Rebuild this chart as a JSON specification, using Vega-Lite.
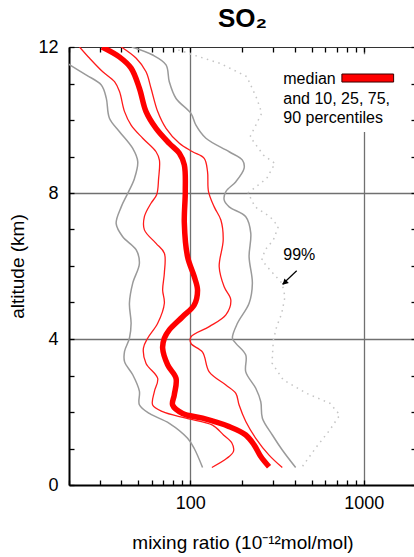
{
  "$schema": "https://vega.github.io/schema/vega-lite/v6.json",
  "autosize": "none",
  "width": 347,
  "height": 438,
  "padding": {"left": 69, "top": 47, "right": 0, "bottom": 72},
  "background": "white",
  "config": {"view": {"stroke": null}, "font": "Liberation Sans"},
  "title": {"text": "SO₂", "fontSize": 26, "fontWeight": "bold", "font": "Liberation Sans", "color": "black", "offset": 6, "anchor": "middle"},
  "datasets": {
    "prof": [
      {"s":"p10","a":12,"v":14},{"s":"p10","a":11.51,"v":20.2},{"s":"p10","a":11.23,"v":25.2},{"s":"p10","a":10.96,"v":30.7},{"s":"p10","a":10.6,"v":32.8},{"s":"p10","a":10.05,"v":34.2},{"s":"p10","a":9.68,"v":39.1},{"s":"p10","a":9.22,"v":46.6},{"s":"p10","a":8.86,"v":49.8},{"s":"p10","a":8.4,"v":47.7},{"s":"p10","a":7.99,"v":43.6},{"s":"p10","a":7.62,"v":40},{"s":"p10","a":7.16,"v":37.4},{"s":"p10","a":6.8,"v":40.8},{"s":"p10","a":6.44,"v":48.8},{"s":"p10","a":6.07,"v":50.9},{"s":"p10","a":5.53,"v":46.6},{"s":"p10","a":4.98,"v":44.6},{"s":"p10","a":4.43,"v":45.6},{"s":"p10","a":4.02,"v":44.6},{"s":"p10","a":3.66,"v":41.8},{"s":"p10","a":3.38,"v":41.8},{"s":"p10","a":3.02,"v":46.6},{"s":"p10","a":2.57,"v":50.9},{"s":"p10","a":2.2,"v":50.9},{"s":"p10","a":1.96,"v":58.1},{"s":"p10","a":1.69,"v":75.7},{"s":"p10","a":1.28,"v":96.5},{"s":"p10","a":1.0,"v":105.4},{"s":"p10","a":0.48,"v":117.7},
      {"s":"p90","a":12,"v":46},{"s":"p90","a":11.78,"v":60.7},{"s":"p90","a":11.51,"v":72.5},{"s":"p90","a":11.05,"v":75.7},{"s":"p90","a":10.59,"v":82.8},{"s":"p90","a":10.18,"v":100.9},{"s":"p90","a":9.86,"v":107.8},{"s":"p90","a":9.5,"v":123.1},{"s":"p90","a":9.13,"v":167.6},{"s":"p90","a":8.9,"v":199.8},{"s":"p90","a":8.68,"v":204.4},{"s":"p90","a":8.31,"v":183.1},{"s":"p90","a":8.04,"v":160.4},{"s":"p90","a":7.81,"v":156.8},{"s":"p90","a":7.62,"v":167.6},{"s":"p90","a":7.35,"v":208.9},{"s":"p90","a":6.9,"v":223.2},{"s":"p90","a":6.25,"v":218.3},{"s":"p90","a":5.53,"v":228},{"s":"p90","a":4.98,"v":218.3},{"s":"p90","a":4.43,"v":187},{"s":"p90","a":4.02,"v":175},{"s":"p90","a":3.88,"v":183.1},{"s":"p90","a":3.56,"v":208.9},{"s":"p90","a":3.1,"v":208.9},{"s":"p90","a":2.65,"v":238.5},{"s":"p90","a":2.28,"v":254.9},{"s":"p90","a":1.83,"v":260.4},{"s":"p90","a":1.37,"v":297.2},{"s":"p90","a":0.96,"v":339.1},{"s":"p90","a":0.48,"v":404.9},
      {"s":"p25","a":12,"v":23},{"s":"p25","a":11.69,"v":26.3},{"s":"p25","a":11.32,"v":31.3},{"s":"p25","a":11.05,"v":36.6},{"s":"p25","a":10.78,"v":39.1},{"s":"p25","a":10.23,"v":41.8},{"s":"p25","a":9.86,"v":45.6},{"s":"p25","a":9.5,"v":53.2},{"s":"p25","a":9.13,"v":63.5},{"s":"p25","a":8.9,"v":66.4},{"s":"p25","a":8.4,"v":65.7},{"s":"p25","a":7.95,"v":64},{"s":"p25","a":7.72,"v":59.4},{"s":"p25","a":7.35,"v":54.4},{"s":"p25","a":6.99,"v":54.4},{"s":"p25","a":6.62,"v":63.5},{"s":"p25","a":6.35,"v":70.9},{"s":"p25","a":5.81,"v":70.9},{"s":"p25","a":5.34,"v":69.3},{"s":"p25","a":4.98,"v":70.9},{"s":"p25","a":4.43,"v":64.9},{"s":"p25","a":4.02,"v":56.8},{"s":"p25","a":3.75,"v":53.7},{"s":"p25","a":3.33,"v":55.6},{"s":"p25","a":2.92,"v":64.9},{"s":"p25","a":2.56,"v":62.1},{"s":"p25","a":2.19,"v":60.7},{"s":"p25","a":2.01,"v":69.3},{"s":"p25","a":1.83,"v":94.5},{"s":"p25","a":1.64,"v":134.4},{"s":"p25","a":1.37,"v":155.4},{"s":"p25","a":1.15,"v":173.7},{"s":"p25","a":0.92,"v":177.4},{"s":"p25","a":0.73,"v":162.5},{"s":"p25","a":0.48,"v":133.2},
      {"s":"p75","a":12,"v":40},{"s":"p75","a":11.69,"v":48.8},{"s":"p75","a":11.32,"v":55.6},{"s":"p75","a":10.87,"v":59.4},{"s":"p75","a":10.23,"v":64.9},{"s":"p75","a":9.77,"v":72.5},{"s":"p75","a":9.36,"v":86.5},{"s":"p75","a":9.13,"v":103.1},{"s":"p75","a":8.95,"v":120.3},{"s":"p75","a":8.59,"v":125.7},{"s":"p75","a":8.04,"v":127.4},{"s":"p75","a":7.62,"v":137.4},{"s":"p75","a":7.26,"v":150.1},{"s":"p75","a":6.71,"v":154.8},{"s":"p75","a":5.98,"v":146.8},{"s":"p75","a":5.43,"v":156.8},{"s":"p75","a":5.07,"v":171.3},{"s":"p75","a":4.66,"v":160.4},{"s":"p75","a":4.34,"v":128.6},{"s":"p75","a":4.06,"v":100.9},{"s":"p75","a":3.88,"v":100.9},{"s":"p75","a":3.64,"v":117.7},{"s":"p75","a":3.1,"v":128.6},{"s":"p75","a":2.74,"v":160.4},{"s":"p75","a":2.51,"v":183.1},{"s":"p75","a":2.19,"v":191.2},{"s":"p75","a":1.74,"v":208.9},{"s":"p75","a":1.28,"v":238.5},{"s":"p75","a":0.82,"v":284.5},{"s":"p75","a":0.48,"v":339.1},
      {"s":"p50","a":12,"v":31},{"s":"p50","a":11.73,"v":39},{"s":"p50","a":11.42,"v":45.6},{"s":"p50","a":10.87,"v":50.9},{"s":"p50","a":10.23,"v":55.6},{"s":"p50","a":9.77,"v":63.5},{"s":"p50","a":9.36,"v":75.7},{"s":"p50","a":9.09,"v":86.5},{"s":"p50","a":8.77,"v":92.4},{"s":"p50","a":8.04,"v":93.6},{"s":"p50","a":7.18,"v":92.4},{"s":"p50","a":6.25,"v":96.5},{"s":"p50","a":5.71,"v":105.4},{"s":"p50","a":5.34,"v":110.1},{"s":"p50","a":4.93,"v":105.4},{"s":"p50","a":4.61,"v":90.3},{"s":"p50","a":4.25,"v":75.7},{"s":"p50","a":4.02,"v":70.9},{"s":"p50","a":3.75,"v":69.3},{"s":"p50","a":3.29,"v":74.1},{"s":"p50","a":2.92,"v":82.8},{"s":"p50","a":2.47,"v":80.9},{"s":"p50","a":2.19,"v":79.1},{"s":"p50","a":1.96,"v":90.3},{"s":"p50","a":1.83,"v":117.7},{"s":"p50","a":1.6,"v":167.6},{"s":"p50","a":1.37,"v":208.9},{"s":"p50","a":1.1,"v":233.2},{"s":"p50","a":0.78,"v":254.9},{"s":"p50","a":0.5,"v":284.5},
      {"s":"p99","a":11.92,"v":85.3},{"s":"p99","a":11.78,"v":104.5},{"s":"p99","a":11.55,"v":148.8},{"s":"p99","a":11.19,"v":211.8},{"s":"p99","a":10.59,"v":241.7},{"s":"p99","a":10.19,"v":258.3},{"s":"p99","a":9.54,"v":221.2},{"s":"p99","a":9.04,"v":263.8},{"s":"p99","a":8.81,"v":307.9},{"s":"p99","a":8.4,"v":276},{"s":"p99","a":8.0,"v":215.4},{"s":"p99","a":7.62,"v":236.3},{"s":"p99","a":7.35,"v":288.3},{"s":"p99","a":7.08,"v":321.8},{"s":"p99","a":6.71,"v":301.1},{"s":"p99","a":6.44,"v":269.8},{"s":"p99","a":6.16,"v":258.3},{"s":"p99","a":5.89,"v":288.3},{"s":"p99","a":5.53,"v":337.9},{"s":"p99","a":5.16,"v":351.5},{"s":"p99","a":4.7,"v":336.5},{"s":"p99","a":4.34,"v":314.9},{"s":"p99","a":3.97,"v":301.1},{"s":"p99","a":3.34,"v":296},{"s":"p99","a":2.88,"v":343.6},{"s":"p99","a":2.51,"v":468.6},{"s":"p99","a":2.24,"v":637.6},{"s":"p99","a":1.92,"v":727.8},{"s":"p99","a":1.51,"v":637.6},{"s":"p99","a":1.05,"v":535},{"s":"p99","a":0.49,"v":440.1}
    ],
    "notes": [
      {"t":"median","x":343.6,"y":10.98},
      {"t":"and 10, 25, 75,","x":343.6,"y":10.44},
      {"t":"90 percentiles","x":343.6,"y":9.91},
      {"t":"99%","x":343.6,"y":6.16}
    ]
  },
  "resolve": {"axis": {"x": "independent", "y": "independent"}},
  "layer": [
    {
      "data": {"values": [{"x":300,"x2":1700,"y":11.8,"y2":9.67}]},
      "mark": {"type": "rect", "fill": "white", "stroke": null, "clip": true},
      "encoding": {
        "x": {"field": "x", "type": "quantitative", "scale": {"type": "log", "domain": [20, 2000], "nice": false},
          "axis": {"orient": "bottom", "values": [20,30,40,50,60,70,80,90,100,200,300,400,500,600,700,800,900,1000],
            "labelExpr": "datum.value == 100 || datum.value == 1000 ? datum.value : ''",
            "tickSize": -5, "tickColor": "black", "tickWidth": 1.3, "domainColor": "black", "domainWidth": 2,
            "grid": true, "gridColor": "#707070", "gridWidth": 1.3,
            "gridOpacity": {"condition": {"test": "datum.value == 100 || datum.value == 1000", "value": 1}, "value": 0},
            "labelFontSize": 18, "labelFont": "Liberation Sans", "labelColor": "black", "labelPadding": 14,
            "labelOverlap": false, "labelFlush": false,
            "title": "mixing ratio (10⁻¹²mol/mol)", "titleFontSize": 19, "titleFont": "Liberation Sans", "titleFontWeight": "normal", "titleColor": "black", "titlePadding": 21}},
        "x2": {"field": "x2"},
        "y": {"field": "y", "type": "quantitative", "scale": {"domain": [0, 12], "nice": false, "zero": false},
          "axis": {"orient": "left", "values": [0,1,2,3,4,5,6,7,8,9,10,11,12],
            "labelExpr": "datum.value % 4 == 0 ? datum.value : ''",
            "tickSize": -5, "tickColor": "black", "tickWidth": 1.3, "domainColor": "black", "domainWidth": 2,
            "grid": true, "gridColor": "#707070", "gridWidth": 1.3,
            "gridOpacity": {"condition": {"test": "datum.value == 4 || datum.value == 8", "value": 1}, "value": 0},
            "labelFontSize": 18, "labelFont": "Liberation Sans", "labelColor": "black", "labelPadding": 16,
            "labelOverlap": false, "labelFlush": false,
            "title": "altitude (km)", "titleFontSize": 19, "titleFont": "Liberation Sans", "titleFontWeight": "normal", "titleColor": "black", "titlePadding": 10}},
        "y2": {"field": "y2"}
      }
    },
    {
      "data": {"name": "prof"},
      "transform": [{"filter": "datum.s == 'p10' || datum.s == 'p90'"}],
      "mark": {"type": "line", "color": "#9a9a9a", "strokeWidth": 1.5, "interpolate": "catmull-rom", "clip": true},
      "encoding": {
        "x": {"field": "v", "type": "quantitative", "scale": {"type": "log", "domain": [20, 2000], "nice": false},
          "axis": {"orient": "top", "values": [20,30,40,50,60,70,80,90,100,200,300,400,500,600,700,800,900,1000],
            "labels": false, "tickSize": -5, "tickColor": "black", "tickWidth": 1.3, "domainColor": "#333333", "domainWidth": 1.2, "grid": false, "title": null}},
        "y": {"field": "a", "type": "quantitative", "scale": {"domain": [0, 12], "nice": false, "zero": false},
          "axis": {"orient": "right", "values": [0,1,2,3,4,5,6,7,8,9,10,11,12],
            "labels": false, "tickSize": -5, "tickColor": "black", "tickWidth": 1.3, "domainColor": "black", "domainWidth": 1.5, "grid": false, "title": null}},
        "detail": {"field": "s"},
        "order": {"field": "a", "sort": "descending"}
      }
    },
    {
      "data": {"name": "prof"},
      "transform": [{"filter": "datum.s == 'p99'"}],
      "mark": {"type": "line", "color": "#c4c4c4", "strokeWidth": 1.5, "strokeDash": [1.5, 4.5], "clip": true},
      "encoding": {
        "x": {"field": "v", "type": "quantitative", "scale": {"type": "log", "domain": [20, 2000], "nice": false}, "axis": null},
        "y": {"field": "a", "type": "quantitative", "scale": {"domain": [0, 12], "nice": false, "zero": false}, "axis": null},
        "order": {"field": "a", "sort": "descending"}
      }
    },
    {
      "data": {"name": "prof"},
      "transform": [{"filter": "datum.s == 'p25' || datum.s == 'p75'"}],
      "mark": {"type": "line", "color": "#ff1a1a", "strokeWidth": 1.3, "interpolate": "catmull-rom", "clip": true},
      "encoding": {
        "x": {"field": "v", "type": "quantitative", "scale": {"type": "log", "domain": [20, 2000], "nice": false}, "axis": null},
        "y": {"field": "a", "type": "quantitative", "scale": {"domain": [0, 12], "nice": false, "zero": false}, "axis": null},
        "detail": {"field": "s"},
        "order": {"field": "a", "sort": "descending"}
      }
    },
    {
      "data": {"name": "prof"},
      "transform": [{"filter": "datum.s == 'p50'"}],
      "mark": {"type": "line", "color": "#ff0000", "strokeWidth": 5.5, "interpolate": "catmull-rom", "clip": true},
      "encoding": {
        "x": {"field": "v", "type": "quantitative", "scale": {"type": "log", "domain": [20, 2000], "nice": false}, "axis": null},
        "y": {"field": "a", "type": "quantitative", "scale": {"domain": [0, 12], "nice": false, "zero": false}, "axis": null},
        "order": {"field": "a", "sort": "descending"}
      }
    },
    {
      "data": {"values": [{"x":748,"x2":1486,"y":11.26,"y2":11.04}]},
      "mark": {"type": "rect", "fill": "#ff0000", "stroke": "#3a0000", "strokeWidth": 1},
      "encoding": {
        "x": {"field": "x", "type": "quantitative", "scale": {"type": "log", "domain": [20, 2000], "nice": false}, "axis": null},
        "x2": {"field": "x2"},
        "y": {"field": "y", "type": "quantitative", "scale": {"domain": [0, 12], "nice": false, "zero": false}, "axis": null},
        "y2": {"field": "y2"}
      }
    },
    {
      "data": {"name": "notes"},
      "mark": {"type": "text", "align": "left", "baseline": "alphabetic", "fontSize": 16, "font": "Liberation Sans", "color": "black"},
      "encoding": {
        "x": {"field": "x", "type": "quantitative", "scale": {"type": "log", "domain": [20, 2000], "nice": false}, "axis": null},
        "y": {"field": "y", "type": "quantitative", "scale": {"domain": [0, 12], "nice": false, "zero": false}, "axis": null},
        "text": {"field": "t"}
      }
    },
    {
      "data": {"values": [{"x":410.5,"y":5.87,"x2":340,"y2":5.5}]},
      "mark": {"type": "rule", "color": "black", "strokeWidth": 1.2},
      "encoding": {
        "x": {"field": "x", "type": "quantitative", "scale": {"type": "log", "domain": [20, 2000], "nice": false}, "axis": null},
        "y": {"field": "y", "type": "quantitative", "scale": {"domain": [0, 12], "nice": false, "zero": false}, "axis": null},
        "x2": {"field": "x2"},
        "y2": {"field": "y2"}
      }
    },
    {
      "data": {"values": [{"x":350,"y":5.54}]},
      "mark": {"type": "point", "shape": "triangle-up", "filled": true, "color": "black", "size": 40, "angle": 225, "opacity": 1},
      "encoding": {
        "x": {"field": "x", "type": "quantitative", "scale": {"type": "log", "domain": [20, 2000], "nice": false}, "axis": null},
        "y": {"field": "y", "type": "quantitative", "scale": {"domain": [0, 12], "nice": false, "zero": false}, "axis": null}
      }
    }
  ]
}
